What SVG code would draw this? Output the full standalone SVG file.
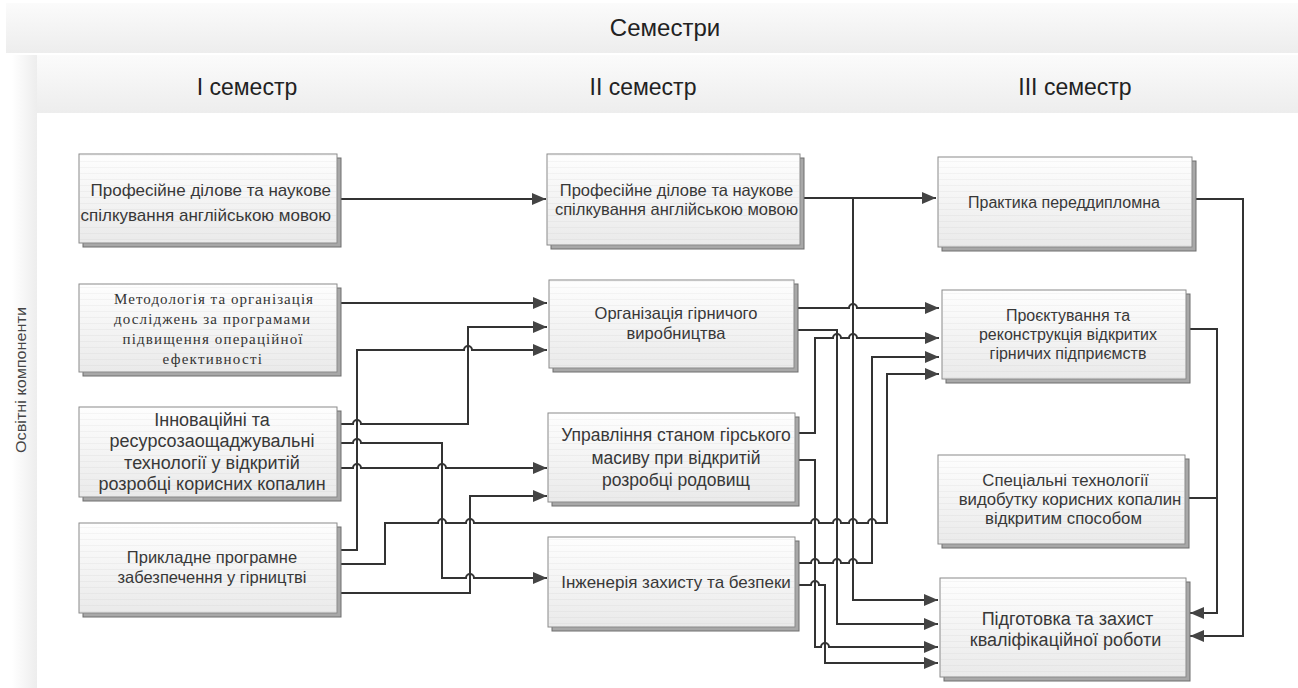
<svg xmlns="http://www.w3.org/2000/svg" width="1298" height="688" viewBox="0 0 1298 688">
<defs>
<linearGradient id="band" x1="0" y1="0" x2="0" y2="1"><stop offset="0" stop-color="#fbfbfb"/><stop offset="1" stop-color="#ededed"/></linearGradient>
<linearGradient id="side" x1="0" y1="0" x2="1" y2="0"><stop offset="0" stop-color="#ffffff"/><stop offset="1" stop-color="#ededed"/></linearGradient>
<linearGradient id="boxg" x1="0" y1="0" x2="0" y2="1"><stop offset="0" stop-color="#fefefe"/><stop offset="1" stop-color="#eaeaea"/></linearGradient>
<pattern id="stripes" width="8" height="6" patternUnits="userSpaceOnUse"><line x1="0" y1="5.5" x2="8" y2="5.5" stroke="#000" stroke-opacity="0.03" stroke-width="1"/></pattern>
<marker id="arr" viewBox="0 0 14 12" refX="14" refY="6" markerWidth="14" markerHeight="12" markerUnits="userSpaceOnUse" orient="auto"><path d="M0,0 L14,6 L0,12 z" fill="#444"/></marker>
</defs>
<style>
.hdr{font-family:"Liberation Sans",Arial,sans-serif;fill:#222;text-anchor:middle}
.t{font-family:"Liberation Sans",Arial,sans-serif;fill:#383838;text-anchor:middle}
.ts{font-family:"Liberation Serif","Times New Roman",serif;fill:#333}
.sh{fill:#a8a8a8;stroke:#6e6e6e;stroke-width:1}
.bx{fill:url(#boxg);stroke:#8a8a8a;stroke-width:1}
.st{fill:url(#stripes)}
.c{fill:none;stroke:#333;stroke-width:2}
.ca{fill:none;stroke:#333;stroke-width:2;marker-end:url(#arr)}
</style>
<rect width="1298" height="688" fill="#ffffff"/>
<g id="header">
<rect x="6" y="3" width="1292" height="50" fill="url(#band)"/>
<text class="hdr" x="665" y="36" font-size="24">Семестри</text>
<rect x="12" y="55" width="25" height="633" fill="url(#side)"/>
<rect x="37" y="55" width="1261" height="58" fill="url(#band)"/>
<text class="hdr" x="247" y="95" font-size="23">І семестр</text>
<text class="hdr" x="643" y="95" font-size="23">ІІ семестр</text>
<text class="hdr" x="1075" y="95" font-size="23">ІІІ семестр</text>
<text font-family="Liberation Sans, Arial, sans-serif" font-size="15.5" fill="#444" text-anchor="middle" textLength="146" lengthAdjust="spacingAndGlyphs" transform="translate(26,380) rotate(-90)">Освітні компоненти</text>
</g>

<g id="connectors">
<path class="ca" d="M341,199 H546"/>
<path class="ca" d="M341,303 H547"/>
<path class="ca" d="M341,424 H353 a4,4 0 0 1 8,0 H468 V327 H547"/>
<path class="ca" d="M341,443 H353 a4,4 0 0 1 8,0 H442 V578 H466 a4,4 0 0 1 8,0 H547"/>
<path class="ca" d="M341,468 H353 a4,4 0 0 1 8,0 H438 a4,4 0 0 1 8,0 H547"/>
<path class="ca" d="M341,550 H357 V350 H464 a4,4 0 0 1 8,0 H547"/>
<path class="ca" d="M341,564 H385 V523 H438 a4,4 0 0 1 8,0 H466 a4,4 0 0 1 8,0 H811 a4,4 0 0 1 8,0 H833 a4,4 0 0 1 8,0 H849 a4,4 0 0 1 8,0 H868 a4,4 0 0 1 8,0 H887 V374 H939"/>
<path class="ca" d="M341,593 H470 V496 H547"/>
<path class="ca" d="M803,198 H936"/>
<path class="ca" d="M853,198 V600 H938"/>
<path class="ca" d="M797,308 H849 a4,4 0 0 1 8,0 H939"/>
<path class="ca" d="M797,330 H837 V624 H938"/>
<path class="ca" d="M798,433 H815 V338 H833 a4,4 0 0 1 8,0 H849 a4,4 0 0 1 8,0 H939"/>
<path class="ca" d="M798,460 H815 V647 H821 a4,4 0 0 1 8,0 H938"/>
<path class="ca" d="M798,563 H811 a4,4 0 0 1 8,0 H833 a4,4 0 0 1 8,0 H849 a4,4 0 0 1 8,0 H872 V357 H939"/>
<path class="ca" d="M798,585 H811 a4,4 0 0 1 8,0 H825 V663 H938"/>
<path class="ca" d="M1195,199 H1243 V636 H1190"/>
<path class="ca" d="M1189,329 H1217 V613 H1190"/>
<path class="c" d="M1189,498 H1217"/>
</g>

<g id="n-a1">
<rect class="sh" x="83" y="158" width="258" height="89"/><rect class="bx" x="79" y="154" width="258" height="89"/><rect class="st" x="80" y="155" width="256" height="87"/>
<text class="t" font-size="17" style="text-anchor:end"><tspan x="331" y="196">Професійне ділове та наукове</tspan><tspan x="331" y="221">спілкування англійською мовою</tspan></text>
</g>
<g id="n-a2">
<rect class="sh" x="83" y="288" width="258" height="88"/><rect class="bx" x="79" y="284" width="258" height="88"/><rect class="st" x="80" y="285" width="256" height="86"/>
<text class="ts" font-size="15"><tspan x="114" y="304" textLength="199" lengthAdjust="spacing">Методологія та організація</tspan><tspan x="114" y="324" textLength="196" lengthAdjust="spacing">досліджень за програмами</tspan><tspan x="122.5" y="344" textLength="180" lengthAdjust="spacing">підвищення операційної</tspan><tspan x="162.5" y="364" textLength="99.5" lengthAdjust="spacing">ефективності</tspan></text>
</g>
<g id="n-a3">
<rect class="sh" x="83" y="411" width="258" height="90"/><rect class="bx" x="79" y="407" width="258" height="90"/><rect class="st" x="80" y="408" width="256" height="88"/>
<text class="t" font-size="18"><tspan x="212" y="425.5">Інноваційні та</tspan><tspan x="212" y="447">ресурсозаощаджувальні</tspan><tspan x="212" y="468.5">технології у відкритій</tspan><tspan x="212" y="490">розробці корисних копалин</tspan></text>
</g>
<g id="n-a4">
<rect class="sh" x="83" y="527" width="258" height="90"/><rect class="bx" x="79" y="523" width="258" height="90"/><rect class="st" x="80" y="524" width="256" height="88"/>
<text class="t" font-size="16.5"><tspan x="212" y="563">Прикладне програмне</tspan><tspan x="212" y="583">забезпечення у гірництві</tspan></text>
</g>

<g id="n-b1">
<rect class="sh" x="551" y="158" width="253" height="91"/><rect class="bx" x="547" y="154" width="253" height="91"/><rect class="st" x="548" y="155" width="251" height="89"/>
<text class="t" font-size="16.5"><tspan x="676.5" y="196">Професійне ділове та наукове</tspan><tspan x="676.5" y="215">спілкування англійською мовою</tspan></text>
</g>
<g id="n-b2">
<rect class="sh" x="553" y="284" width="245" height="88"/><rect class="bx" x="549" y="280" width="245" height="88"/><rect class="st" x="550" y="281" width="243" height="86"/>
<text class="t" font-size="16.5"><tspan x="676" y="319">Організація гірничого</tspan><tspan x="676" y="339">виробництва</tspan></text>
</g>
<g id="n-b3">
<rect class="sh" x="552" y="417" width="247" height="89"/><rect class="bx" x="548" y="413" width="247" height="89"/><rect class="st" x="549" y="414" width="245" height="87"/>
<text class="t" font-size="17.5"><tspan x="676" y="441">Управління станом гірського</tspan><tspan x="676" y="463.5">масиву при відкритій</tspan><tspan x="676" y="486">розробці родовищ</tspan></text>
</g>
<g id="n-b4">
<rect class="sh" x="552" y="541" width="247" height="90"/><rect class="bx" x="548" y="537" width="247" height="90"/><rect class="st" x="549" y="538" width="245" height="88"/>
<text class="t" font-size="17" x="676" y="588">Інженерія захисту та безпеки</text>
</g>

<g id="n-c1">
<rect class="sh" x="942" y="161" width="254" height="90"/><rect class="bx" x="938" y="157" width="254" height="90"/><rect class="st" x="939" y="158" width="252" height="88"/>
<text class="t" font-size="16" x="1064" y="208">Практика переддипломна</text>
</g>
<g id="n-c2">
<rect class="sh" x="946" y="294" width="244" height="89"/><rect class="bx" x="942" y="290" width="244" height="89"/><rect class="st" x="943" y="291" width="242" height="87"/>
<text class="t" font-size="16"><tspan x="1068" y="321">Проєктування та</tspan><tspan x="1068" y="340">реконструкція відкритих</tspan><tspan x="1068" y="359">гірничих підприємств</tspan></text>
</g>
<g id="n-c3">
<rect class="sh" x="942" y="459" width="247" height="89"/><rect class="bx" x="938" y="455" width="247" height="89"/><rect class="st" x="939" y="456" width="245" height="87"/>
<text class="t" font-size="16.8"><tspan x="1065.5" y="486">Спеціальні технології</tspan><tspan x="1070" y="505">видобутку корисних копалин</tspan><tspan x="1063.5" y="524">відкритим способом</tspan></text>
</g>
<g id="n-c4">
<rect class="sh" x="944" y="582" width="246" height="99"/><rect class="bx" x="940" y="578" width="246" height="99"/><rect class="st" x="941" y="579" width="244" height="97"/>
<text class="t" font-size="18"><tspan x="1067.5" y="624.5">Підготовка та захист</tspan><tspan x="1065.5" y="645.5">кваліфікаційної роботи</tspan></text>
</g>
</svg>
